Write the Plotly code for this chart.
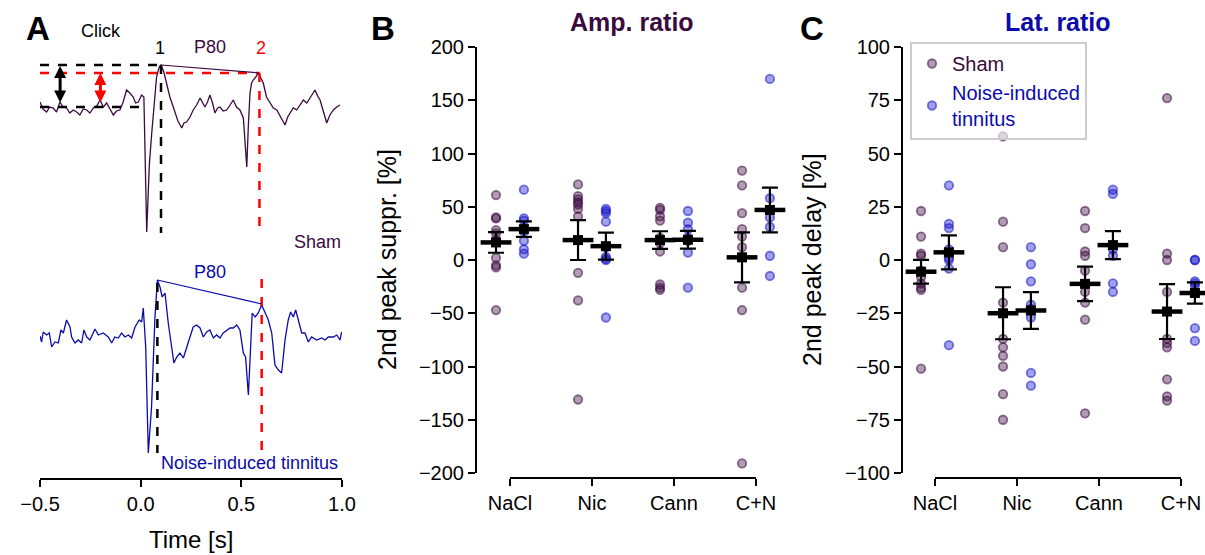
import plotly.graph_objects as go

SHAM = "#3b0a40"
NOISE = "#0b0bab"
FONT = "Liberation Sans, Arial, sans-serif"

# ---- panel A: example click responses (time [s], amplitude in a.u.)
sham_t = [-0.500, -0.485, -0.467, -0.452, -0.434, -0.418, -0.401, -0.385, -0.368, -0.352,
          -0.335, -0.318, -0.302, -0.285, -0.268, -0.252, -0.235, -0.218, -0.202, -0.185,
          -0.169, -0.152, -0.136, -0.120, -0.103, -0.087, -0.070, -0.054, -0.037, -0.025,
          -0.012, 0.005, 0.016, 0.030, 0.043, 0.055, 0.067, 0.079, 0.092, 0.101,
          0.115, 0.129, 0.145, 0.162, 0.185, 0.204, 0.215, 0.228, 0.245, 0.261,
          0.278, 0.295, 0.307, 0.319, 0.332, 0.344, 0.357, 0.369, 0.382, 0.394,
          0.410, 0.427, 0.444, 0.460, 0.476, 0.493, 0.510, 0.527, 0.535, 0.543,
          0.551, 0.559, 0.572, 0.584, 0.597, 0.609, 0.625, 0.642, 0.659, 0.676,
          0.696, 0.717, 0.730, 0.742, 0.758, 0.775, 0.791, 0.808, 0.825, 0.841,
          0.854, 0.866, 0.879, 0.891, 0.907, 0.924, 0.940, 0.957, 0.974, 0.990]
sham_a = [3, -4, -7, -2, -3, -7, 3, -2, -3, -8,
          -5, -7, -10, -4, -5, -8, -3, -1, 5, -2,
          2, -4, -10, -6, -5, 3, 15, 12, 8, 2,
          3, 10, 8, -127, -60, -28, 0, 28, 38, 40,
          33, 22, 8, -2, -16, -23, -18, -17, -12, -5,
          0, 7, 2, -2, 3, 10, 2, -8, -3, -2,
          -6, -5, 0, 5, -2, -5, -13, -62, -20, 12,
          22, 25, 28, 32, 27, 22, 8, 2, -3, -5,
          -12, -20, -12, -8, -3, -5, 0, 5, 2, 7,
          10, 15, 9, 5, -6, -18, -10, -5, -2, 0]

noise_t = [-0.500, -0.492, -0.484, -0.467, -0.454, -0.442, -0.426, -0.409, -0.396, -0.384,
           -0.368, -0.351, -0.343, -0.326, -0.310, -0.293, -0.282, -0.268, -0.252, -0.227,
           -0.210, -0.186, -0.161, -0.144, -0.128, -0.111, -0.095, -0.078, -0.061, -0.045,
           -0.028, -0.007, 0.005, 0.013, 0.025, 0.038, 0.054, 0.071, 0.083, 0.096,
           0.107, 0.121, 0.137, 0.154, 0.165, 0.179, 0.195, 0.212, 0.228, 0.245,
           0.261, 0.278, 0.295, 0.311, 0.328, 0.344, 0.361, 0.377, 0.394, 0.410,
           0.444, 0.460, 0.477, 0.493, 0.510, 0.521, 0.535, 0.546, 0.554, 0.568,
           0.584, 0.601, 0.617, 0.634, 0.651, 0.667, 0.684, 0.700, 0.717, 0.733,
           0.745, 0.758, 0.770, 0.783, 0.800, 0.816, 0.833, 0.849, 0.874, 0.899,
           0.916, 0.932, 0.957, 0.974, 0.990, 0.998]
noise_a = [2, -4, 6, 3, 5, -9, -4, -5, 8, 5,
           18, 11, 1, -5, -2, -5, 8, 1, -2, 9,
           3, 5, 1, -5, 1, 0, 5, 1, 3, 0,
           11, 18, 16, 30, -9, -115, -69, 21, 58, 51,
           41, 45, 15, -12, -25, -19, -15, -20, -9, 1,
           11, 13, 10, 1, 6, 8, 0, 3, 0, 5,
           10, 10, 13, 8, -15, -19, -57, -2, 25, 21,
           25, 33, 26, 18, 5, -27, -32, -35, -2, 18,
           26, 21, 28, 18, 5, 5, -4, 1, -2, 0,
           -2, 1, 1, 3, -2, 6]

sham_peak_t = [0.101, 0.59]
sham_peak_a = [40, 32]
sham_base = -2
sham_trough = -128
noise_peak_t = [0.083, 0.601]
noise_peak_a = [58, 34]
noise_mark_top = [55, 59]
noise_trough = -115

# ---- panels B and C
groups = ["NaCl", "Nic", "Cann", "C+N"]

amp_sham = [[61, 40, 39, 28, 25, 19, 2, -5, -7, -47],
            [71, 60, 57, 54, 52, 48, 41, -12, -38, -131],
            [49, 47, 41, 37, 21, 16, 8, -23, -26, -28],
            [84, 70, 44, 29, 22, 12, -26, -47, -191]]
amp_noise = [[66, 39, 37, 30, 27, 18, 10, 6],
             [48, 46, 44, 36, 12, 3, 1, 0, -54],
             [46, 35, 29, 21, 18, 7, -26],
             [170, 58, 40, 31, 4, -15]]
amp_sham_mean = [16.5, 18.7, 18.7, 2.5]
amp_sham_err = [9.7, 18.7, 8.3, 23.5]
amp_noise_mean = [29, 13, 19, 47]
amp_noise_err = [7.2, 12.7, 8.3, 21]

lat_sham = [[23, 11, 3, 2, -5, -8, -11, -13, -14, -51],
            [58, 18, 6, -20, -37, -41, -45, -50, -63, -75],
            [23, 15, 4, 2, -5, -15, -20, -28, -72],
            [76, 3, 0, -15, -37, -39, -41, -56, -64, -66]]
lat_noise = [[35, 17, 15, 5, 1, 0, -4, -40],
             [6, -2, -10, -21, -23, -27, -53, -59],
             [33, 31, 5, 2, -11, -15],
             [0, 0, -10, -11, -12, -32, -38]]
lat_sham_mean = [-5.5, -25, -11.2, -24.2]
lat_sham_err = [5.6, 12.2, 8.1, 12.9]
lat_noise_mean = [3.6, -23.7, 7, -15.5]
lat_noise_err = [8, 8.6, 6.6, 5]

W, H = 1205, 555


def px(x):
    return x / W


def py(y):
    return 1 - y / H


fig = go.Figure()

# --- panel A traces
fig.add_trace(go.Scatter(x=sham_t, y=sham_a, mode="lines", line=dict(color=SHAM, width=1.3),
                         xaxis="x", yaxis="y", showlegend=False))
fig.add_trace(go.Scatter(x=noise_t, y=noise_a, mode="lines", line=dict(color=NOISE, width=1.3),
                         xaxis="x", yaxis="y2", showlegend=False))

dash = dict(width=2.5, dash="dash")
# sham: horizontal guides
fig.add_trace(go.Scatter(x=[-0.5, sham_peak_t[0]], y=[sham_peak_a[0]] * 2, mode="lines",
                         line=dict(color="black", **dash), xaxis="x", yaxis="y", showlegend=False))
fig.add_trace(go.Scatter(x=[-0.5, 0.0], y=[sham_base] * 2, mode="lines",
                         line=dict(color="black", **dash), xaxis="x", yaxis="y", showlegend=False))
fig.add_trace(go.Scatter(x=[-0.5, sham_peak_t[1]], y=[sham_peak_a[1]] * 2, mode="lines",
                         line=dict(color="red", **dash), xaxis="x", yaxis="y", showlegend=False))
# sham: vertical guides
fig.add_trace(go.Scatter(x=[sham_peak_t[0]] * 2, y=[sham_peak_a[0], sham_trough], mode="lines",
                         line=dict(color="black", **dash), xaxis="x", yaxis="y", showlegend=False))
fig.add_trace(go.Scatter(x=[sham_peak_t[1]] * 2, y=[sham_peak_a[1], sham_trough], mode="lines",
                         line=dict(color="red", **dash), xaxis="x", yaxis="y", showlegend=False))
fig.add_trace(go.Scatter(x=sham_peak_t, y=sham_peak_a, mode="lines", line=dict(color=SHAM, width=1.2),
                         xaxis="x", yaxis="y", showlegend=False))
# noise: vertical guides + peak line
fig.add_trace(go.Scatter(x=[noise_peak_t[0]] * 2, y=[noise_mark_top[0], noise_trough], mode="lines",
                         line=dict(color="black", **dash), xaxis="x", yaxis="y2", showlegend=False))
fig.add_trace(go.Scatter(x=[noise_peak_t[1]] * 2, y=[noise_mark_top[1], noise_trough], mode="lines",
                         line=dict(color="red", **dash), xaxis="x", yaxis="y2", showlegend=False))
fig.add_trace(go.Scatter(x=noise_peak_t, y=noise_peak_a, mode="lines", line=dict(color=NOISE, width=1.2),
                         xaxis="x", yaxis="y2", showlegend=False))


# --- panels B and C
def add_group(vals, means, errs, offset, color, xa, ya, name, legend):
    for i, v in enumerate(vals):
        fig.add_trace(go.Scatter(
            x=[i + offset] * len(v), y=v, mode="markers",
            marker=dict(size=8.5, color=f"rgba({color},0.4)",
                        line=dict(color=f"rgba({color},0.55)", width=1.8)),
            xaxis=xa, yaxis=ya, name=name, showlegend=legend and i == 0))
    xs = [i + offset for i in range(len(means))]
    fig.add_trace(go.Scatter(
        x=xs, y=means, mode="markers",
        marker=dict(symbol="square", size=10, color="black"),
        error_y=dict(type="data", array=errs, color="black", thickness=2.2, width=8),
        xaxis=xa, yaxis=ya, showlegend=False))
    fig.add_trace(go.Scatter(
        x=xs, y=means, mode="markers",
        marker=dict(symbol="line-ew", size=22, line=dict(color="black", width=4.5)),
        xaxis=xa, yaxis=ya, showlegend=False))


sham_rgb = "59,10,64"
noise_rgb = "20,20,200"
sham_name = f'<span style="color:{SHAM}">Sham</span>'
noise_name = f'<span style="color:{NOISE}">Noise-induced<br>tinnitus</span>'

add_group(amp_sham, amp_sham_mean, amp_sham_err, -0.17, sham_rgb, "x2", "y3", sham_name, False)
add_group(amp_noise, amp_noise_mean, amp_noise_err, 0.17, noise_rgb, "x2", "y3", noise_name, False)
add_group(lat_sham, lat_sham_mean, lat_sham_err, -0.17, sham_rgb, "x3", "y4", sham_name, True)
add_group(lat_noise, lat_noise_mean, lat_noise_err, 0.17, noise_rgb, "x3", "y4", noise_name, True)

tickfont = dict(family=FONT, size=20, color="black")
spine = dict(showline=True, linecolor="black", linewidth=2, ticks="outside", ticklen=7,
             tickwidth=2, tickcolor="black", showgrid=False, zeroline=False, tickfont=tickfont,
             automargin=False)
x_base = py(478)

fig.update_layout(
    width=W, height=H, margin=dict(l=0, r=0, t=0, b=0, autoexpand=False),
    paper_bgcolor="white", plot_bgcolor="white",
    font=dict(family=FONT, color="black"),
    xaxis=dict(domain=[px(40), px(342)], range=[-0.5, 1.0], anchor="y2",
               tickvals=[-0.5, 0, 0.5, 1.0], tickformat=".1f", **spine),
    yaxis=dict(domain=[py(250), py(20)], range=[-145, 85], anchor="x", visible=False,
               automargin=False),
    yaxis2=dict(domain=[x_base, py(250)], range=[-140, 88], anchor="x", visible=False,
                automargin=False),
    xaxis2=dict(domain=[px(477), px(790)], range=[-0.402, 3.415], anchor="free", position=x_base,
                tickvals=[0, 1, 2, 3], ticktext=groups,
                **{**spine, "showline": False}),
    yaxis3=dict(domain=[py(473), py(47)], range=[-200, 200], anchor="x2",
                tickvals=list(range(-200, 201, 50)), **spine),
    xaxis3=dict(domain=[px(903), 1.0], range=[-0.39, 3.293], anchor="free", position=x_base,
                tickvals=[0, 1, 2, 3], ticktext=groups,
                **{**spine, "showline": False}),
    yaxis4=dict(domain=[py(473), py(47)], range=[-100, 100], anchor="x3",
                tickvals=list(range(-100, 101, 25)), **spine),
    legend=dict(x=px(910), y=py(42), xanchor="left", yanchor="top",
                bgcolor="rgba(255,255,255,0.6)", bordercolor="#cccccc", borderwidth=2,
                font=dict(family=FONT, size=20), itemwidth=30, tracegroupgap=0),
)

# trimmed bottom spines for B and C
for xr in ["x2", "x3"]:
    fig.add_shape(type="line", xref=xr, yref="paper", x0=0, x1=3, y0=x_base, y1=x_base,
                  line=dict(color="black", width=2))

ann = []


def label(text, x, y, size, color="black", bold=False, angle=0, xref="paper", yref="paper"):
    ann.append(dict(text=f"<b>{text}</b>" if bold else text, x=x, y=y, xref=xref, yref=yref,
                    showarrow=False, textangle=angle, xanchor="center", yanchor="middle",
                    font=dict(family=FONT, size=size, color=color)))


label("A", px(38), py(28), 33, bold=True)
label("B", px(383), py(28), 33, bold=True)
label("C", px(812), py(28), 33, bold=True)
label("Amp. ratio", px(632), py(22), 25, color=SHAM, bold=True)
label("Lat. ratio", px(1058), py(22), 25, color=NOISE, bold=True)
label("2nd peak suppr. [%]", px(387), py(260), 25, angle=-90)
label("2nd peak delay [%]", px(812), py(260), 25, angle=-90)
label("Time [s]", px(191), py(539), 24)

label("Click", -0.198, 74, 18, xref="x", yref="y")
label("1", sham_peak_t[0] - 0.004, 57, 18, xref="x", yref="y")
label("P80", 0.345, 58, 18, color=SHAM, xref="x", yref="y")
label("2", 0.598, 57, 18, color="red", xref="x", yref="y")
label("Sham", 0.876, -137, 18, color=SHAM, xref="x", yref="y")
label("P80", 0.345, 66, 18, color=NOISE, xref="x", yref="y2")
label("Noise-induced tinnitus", 0.54, -125, 18, color=NOISE, xref="x", yref="y2")

# double-headed amplitude arrows
for xa, top, col in [(-0.40, sham_peak_a[0] - 1, "black"), (-0.20, sham_peak_a[1], "red")]:
    ann.append(dict(x=xa, y=top, ax=xa, ay=sham_base + 3, xref="x", yref="y", axref="x", ayref="y",
                    text="", showarrow=True, arrowhead=2, startarrowhead=2, arrowside="end+start",
                    arrowwidth=3, arrowsize=0.8, startarrowsize=0.8, arrowcolor=col,
                    standoff=0, startstandoff=0))

fig.update_layout(annotations=ann)

fig.write_html("out.html", config={"displayModeBar": False},
               post_script="document.body.style.margin='0';document.body.style.overflow='hidden';")
